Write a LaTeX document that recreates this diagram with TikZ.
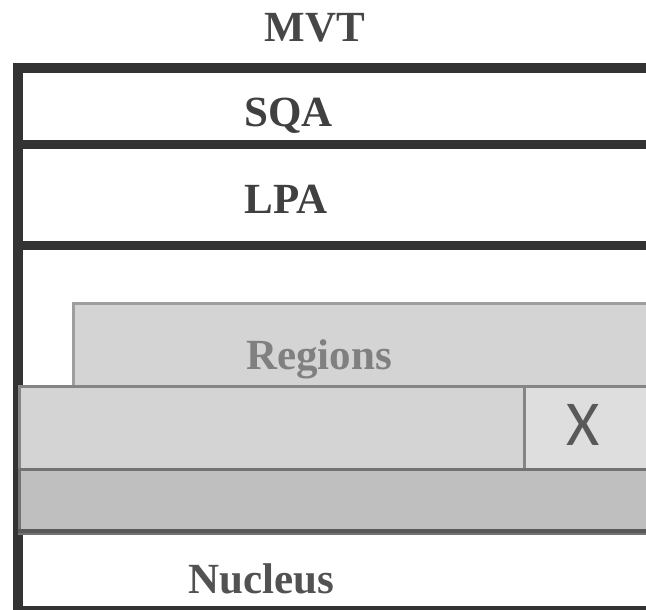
\documentclass[tikz,border=0pt]{standalone}
\usepackage{fontspec}
\setmainfont{Liberation Serif}
\newfontfamily\xfont{Carlito}
\begin{document}
\begin{tikzpicture}[x=1pt,y=-1pt,
  frameline/.style={draw=black!80,line width=10pt},
  sepline/.style={draw=black!80,line width=9pt},
  lbl/.style={anchor=base,font=\bfseries\fontsize{43}{43}\selectfont,inner sep=0pt},
  layer/.style={line width=3pt},
]
\useasboundingbox (0,0) rectangle (646,610);
\clip (0,0) rectangle (646,610);
\fill[white] (0,0) rectangle (646,610);
% outer frame
\draw[frameline] (18,700) -- (18,68) -- (700,68);
\draw[frameline] (18,611) -- (700,611);
\draw[sepline] (18,144.5) -- (700,144.5);
\draw[sepline] (18,245.5) -- (700,245.5);
% layers
\node[layer,draw=black!38,fill=black!17,anchor=north west,minimum width=600pt,minimum height=83pt,inner sep=0pt] (regions) at (71.5,301.5) {};
\node[layer,draw=black!48,fill=black!17,anchor=north west,minimum width=660pt,minimum height=83pt,inner sep=0pt] (mid) at (17.5,384.5) {};
\node[layer,draw=black!48,fill=black!13,anchor=north west,minimum width=140pt,minimum height=83pt,inner sep=0pt] (xbox) at (523,384.5) {};
\node[layer,draw=black!55,fill=black!25,anchor=north west,minimum width=660pt,minimum height=64pt,inner sep=0pt] (bottom) at (17.5,467.5) {};
\draw[draw=black!65,line width=4pt] (17.5,530.5) -- (700,530.5);
% labels
\node[lbl,text=black!72] (mvt) at (315,42) {MVT};
\node[lbl,text=black!75] (sqa) at (288.5,127) {SQA};
\node[lbl,text=black!75] (lpa) at (286,213) {LPA};
\node[lbl,text=black!50] (reg) at (319,369) {Regions};
\node[lbl,text=black!68] (nuc) at (261.5,593) {Nucleus};
\node[anchor=base,inner sep=0pt,text=black!65,font=\xfont\fontsize{64}{64}\selectfont] (x) at (583,445) {X};
\end{tikzpicture}
\end{document}
